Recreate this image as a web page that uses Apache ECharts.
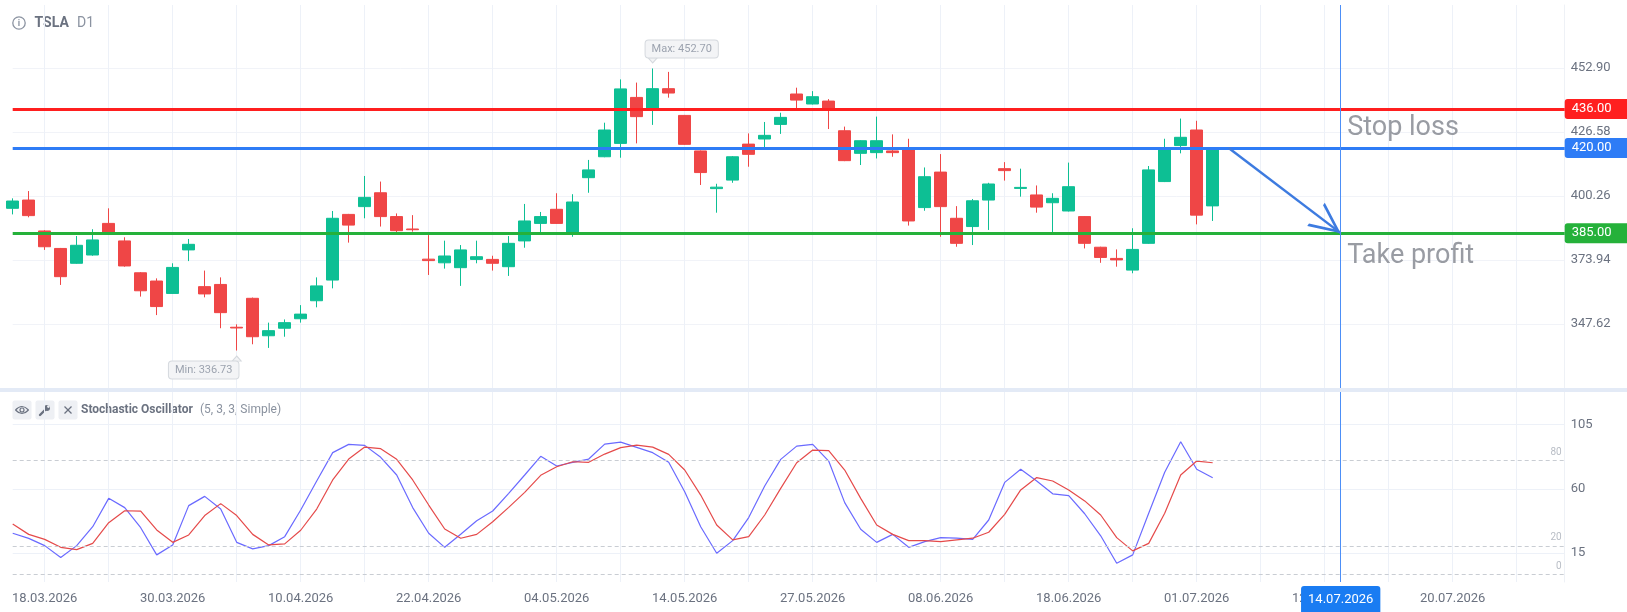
<!DOCTYPE html>
<html>
<head>
<meta charset="utf-8">
<title>TSLA D1</title>
<script src="https://cdn.jsdelivr.net/npm/echarts@6/dist/echarts.min.js"></script>
<style>
  html, body { margin: 0; padding: 0; background: #fff; overflow: hidden; }
  #chart { width: 1627px; height: 612px; }
</style>
</head>
<body>
<div id="chart"></div>
<script>
// trading days shown on the chart, then the empty future slots on the right
var dates = [
  '16.03.2026', '17.03.2026', '18.03.2026', '19.03.2026', '20.03.2026', '23.03.2026', '24.03.2026', '25.03.2026',
  '26.03.2026', '27.03.2026', '30.03.2026', '31.03.2026', '01.04.2026', '02.04.2026', '06.04.2026', '07.04.2026',
  '08.04.2026', '09.04.2026', '10.04.2026', '13.04.2026', '14.04.2026', '15.04.2026', '16.04.2026', '17.04.2026',
  '20.04.2026', '21.04.2026', '22.04.2026', '23.04.2026', '24.04.2026', '27.04.2026', '28.04.2026', '29.04.2026',
  '30.04.2026', '01.05.2026', '04.05.2026', '05.05.2026', '06.05.2026', '07.05.2026', '08.05.2026', '11.05.2026',
  '12.05.2026', '13.05.2026', '14.05.2026', '15.05.2026', '18.05.2026', '19.05.2026', '20.05.2026', '21.05.2026',
  '22.05.2026', '26.05.2026', '27.05.2026', '28.05.2026', '29.05.2026', '01.06.2026', '02.06.2026', '03.06.2026',
  '04.06.2026', '05.06.2026', '08.06.2026', '09.06.2026', '10.06.2026', '11.06.2026', '12.06.2026', '15.06.2026',
  '16.06.2026', '17.06.2026', '18.06.2026', '22.06.2026', '23.06.2026', '24.06.2026', '25.06.2026', '26.06.2026',
  '29.06.2026', '30.06.2026', '01.07.2026', '02.07.2026'
];
var futureDates = [
  '', '', '', '', '', '', '12.07.2026', '14.07.2026', '', '', '', '', '', '', '20.07.2026',
  '', '', '', '', '', '', ''
];

// OHLC
var opens = [
  395.2, 398.6, 385.9, 378.7, 372.6, 376.0, 389.0, 381.8, 368.7, 365.3, 360.2, 378.1, 363.0, 363.9, 346.3, 358.2,
  342.8, 345.9, 349.8, 357.2, 365.7, 392.7, 395.9, 401.6, 391.8, 386.7, 374.3, 372.8, 370.8, 374.2, 374.2, 371.2,
  381.8, 389.0, 394.8, 384.6, 407.8, 416.4, 421.9, 440.8, 436.0, 444.4, 433.4, 418.8, 403.3, 406.8, 421.6, 423.7,
  429.7, 442.2, 438.1, 439.3, 427.1, 417.8, 418.1, 418.8, 419.2, 395.5, 410.1, 391.1, 387.7, 398.6, 411.5, 403.4,
  400.7, 397.5, 394.1, 391.8, 379.2, 374.6, 369.8, 380.8, 406.2, 421.0, 427.4, 396.2
];
var closes = [
  398.2, 392.2, 379.4, 367.1, 380.0, 382.2, 384.9, 371.5, 361.3, 354.8, 370.9, 380.4, 360.0, 352.3, 346.0, 342.4,
  344.9, 348.2, 351.7, 363.3, 391.1, 388.3, 399.7, 391.8, 386.0, 386.4, 373.7, 375.6, 378.1, 375.3, 372.6, 380.8,
  390.0, 391.8, 389.0, 397.8, 411.0, 427.4, 444.3, 432.9, 444.4, 442.6, 421.5, 409.9, 403.9, 416.4, 417.4, 425.2,
  432.6, 439.7, 441.1, 436.0, 414.8, 423.0, 423.0, 418.1, 390.0, 408.2, 395.9, 380.8, 398.3, 405.2, 410.7, 403.8,
  395.7, 399.3, 404.1, 380.8, 375.0, 374.0, 378.3, 411.0, 419.2, 424.4, 392.4, 419.5
];
var lows = [
  392.7, 391.5, 378.1, 363.7, 372.4, 375.7, 384.7, 371.2, 358.9, 351.3, 360.0, 373.5, 358.6, 345.9, 336.73, 339.3,
  337.8, 342.4, 348.2, 354.5, 362.3, 381.1, 391.1, 387.7, 385.3, 385.6, 367.8, 370.4, 363.3, 372.6, 369.6, 367.4,
  379.0, 385.3, 388.8, 383.5, 401.6, 416.2, 416.0, 421.9, 429.5, 440.7, 421.3, 404.8, 393.4, 405.7, 412.3, 420.3,
  425.8, 435.9, 437.9, 427.8, 414.6, 413.0, 415.7, 416.4, 388.1, 394.2, 383.5, 379.4, 380.1, 386.3, 406.6, 400.0,
  393.4, 384.9, 393.9, 378.7, 372.8, 371.2, 368.5, 380.6, 406.0, 417.8, 388.6, 390.0
];
var highs = [
  399.3, 402.3, 386.2, 378.9, 383.8, 386.6, 395.2, 383.3, 369.0, 366.4, 372.6, 382.6, 369.6, 366.8, 347.5, 358.5,
  348.2, 349.5, 355.4, 366.8, 394.1, 392.9, 408.5, 406.2, 393.1, 392.4, 384.2, 381.9, 380.1, 381.9, 375.7, 383.8,
  397.0, 393.7, 401.4, 401.0, 415.1, 430.4, 448.2, 446.9, 452.70, 451.3, 433.6, 419.0, 405.3, 416.7, 426.0, 430.7,
  434.5, 444.8, 443.4, 440.1, 428.8, 423.2, 432.9, 425.6, 423.8, 412.0, 417.5, 396.1, 399.0, 405.7, 414.2, 411.5,
  404.6, 401.4, 414.0, 392.0, 379.4, 378.3, 387.0, 412.6, 423.8, 432.1, 431.2, 420.0
];

// Stochastic Oscillator (5, 3, 3): %K blue, %D red
var stochK = [
  28.8, 25.2, 20.1, 11.7, 20.1, 33.4, 53.3, 46.8, 32.7, 13.6, 20.6, 48.2, 54.7, 45.8, 22.4, 17.8,
  20.1, 26.4, 45.1, 65.5, 85.4, 91.2, 90.5, 82.1, 69.7, 46.8, 28.8, 18.9, 28.1, 37.6, 44.4, 56.8,
  69.7, 82.8, 76.0, 78.6, 80.9, 91.4, 92.8, 89.1, 85.4, 78.6, 58.0, 33.4, 14.7, 23.6, 39.8, 62.0,
  80.7, 90.0, 91.2, 79.5, 50.3, 31.6, 22.4, 28.0, 18.9, 22.9, 25.7, 25.3, 24.5, 38.1, 64.5, 73.7,
  65.5, 56.5, 55.2, 42.5, 27.0, 7.7, 13.6, 42.8, 71.6, 93.1, 73.7, 67.8
];
var stochD = [
  35.3, 28.0, 24.5, 18.9, 17.3, 21.7, 36.2, 44.6, 44.4, 31.1, 22.4, 27.6, 41.2, 49.6, 41.2, 28.0,
  20.6, 21.3, 30.9, 45.8, 66.2, 80.9, 89.3, 88.2, 80.7, 66.2, 48.6, 31.8, 25.3, 28.0, 36.9, 47.0,
  57.5, 69.5, 75.5, 79.0, 78.6, 84.4, 88.9, 90.7, 89.3, 84.2, 73.2, 55.6, 34.6, 24.1, 26.4, 41.6,
  60.3, 78.3, 87.2, 86.8, 73.2, 53.3, 34.6, 28.0, 23.6, 23.6, 22.9, 24.1, 25.3, 29.5, 42.1, 59.2,
  67.9, 65.5, 59.2, 51.5, 41.6, 25.7, 16.4, 21.7, 42.8, 69.7, 79.5, 78.3
];

var priceTicks = [347.62, 373.94, 400.26, 426.58, 452.90];
var stochTicks = [15, 60, 105];
var stochLevels = [80, 20, 0];

var stopLoss = 436, entry = 420, takeProfit = 385;
var levelValues = [stopLoss, entry, takeProfit];
var levelColors = ['#ff1f1f', '#2e7cf6', '#25b13a'];
var cursorDate = '14.07.2026';
var arrowFrom = 76; // first empty slot after the last candle

var FONT = 'Roboto, sans-serif';
var TXT = '#6b7280';
var GRID = '#edf1f8';

var allDates = dates.concat(futureDates);
var cursorIndex = allDates.indexOf(cursorDate);
var candles = opens.map(function (o, i) {
  return [o, closes[i], lows[i], highs[i]];
});

function levelLine (value, i) {
  return {
    yAxis: value,
    lineStyle: { color: levelColors[i], width: 3, type: 'solid' },
    label: { show: false }
  };
}

// one extra right axis per level, each drawing a coloured price tag
function levelAxis (value, i) {
  return {
    type: 'value', gridIndex: 0, position: 'right', min: 321.32, max: 478.80,
    axisLine: { show: false }, axisTick: { show: false, customValues: [value] },
    splitLine: { show: false },
    axisLabel: {
      customValues: [value], margin: 0, formatter: value.toFixed(2),
      color: '#fff', backgroundColor: levelColors[i], fontFamily: FONT, fontSize: 13,
      width: 57, height: 20, lineHeight: 20, align: 'left', padding: [0, 0, 0, 7],
      borderRadius: [3, 0, 0, 3]
    }
  };
}

function dashLevel (value) {
  return {
    yAxis: value,
    lineStyle: { color: '#c9cdd3', width: 1, type: [4, 3] },
    label: {
      show: true, position: 'insideEndTop', distance: 3,
      formatter: String(value), color: '#b8bdc5', fontFamily: FONT, fontSize: 10
    }
  };
}

var markBox = {
  color: '#9ca3af', fontFamily: FONT, fontSize: 11, lineHeight: 11,
  backgroundColor: '#f3f4f6', borderColor: '#d5d9de', borderWidth: 1,
  borderRadius: 3, padding: [3, 6]
};

function xAxisFor (grid, showLabels) {
  return {
    type: 'category', gridIndex: grid, data: allDates, boundaryGap: false,
    axisLine: { show: false }, axisTick: { show: false },
    axisLabel: {
      show: showLabels, color: TXT, fontFamily: FONT, fontSize: 13, margin: 10,
      interval: function (idx) { return idx % 8 === 2; }
    },
    splitLine: {
      show: true, lineStyle: { color: GRID, width: 1 },
      interval: function (idx) { return idx % 4 === 2; }
    },
    axisPointer: {
      show: true, type: 'line', value: cursorIndex, status: 'show', snap: true,
      triggerTooltip: false,
      lineStyle: { color: '#4c8ff7', width: 1, type: 'solid' },
      label: {
        show: showLabels, color: '#fff', backgroundColor: '#1a7cf2',
        fontFamily: FONT, fontSize: 13, lineHeight: 13, padding: [7, 7, 6, 7],
        margin: 4, borderRadius: [3, 3, 0, 0]
      }
    }
  };
}

var chart = echarts.init(document.getElementById('chart'));

var option = {
  animation: false,
  backgroundColor: '#fff',
  axisPointer: { triggerOn: 'none' },
  grid: [
    { left: 12.7, right: 62.3, top: 5, height: 383, outerBoundsMode: 'none' },
    { left: 12.7, right: 62.3, top: 392, height: 190, outerBoundsMode: 'none' }
  ],
  xAxis: [xAxisFor(0, false), xAxisFor(1, true)],
  yAxis: [
    {
      type: 'value', gridIndex: 0, position: 'right', min: 321.32, max: 478.80,
      axisLine: { show: true, lineStyle: { color: '#eef1f6' } },
      axisTick: { show: false, customValues: priceTicks },
      axisLabel: {
        customValues: priceTicks, color: TXT, fontFamily: FONT, fontSize: 13, margin: 6,
        formatter: function (v) { return v.toFixed(2); }
      },
      splitLine: { show: true, lineStyle: { color: '#f1f3f8' } }
    },
    {
      type: 'value', gridIndex: 1, position: 'right', min: -5.45, max: 128,
      axisLine: { show: true, lineStyle: { color: '#eef1f6' } },
      axisTick: { show: false, customValues: stochTicks },
      axisLabel: { customValues: stochTicks, color: TXT, fontFamily: FONT, fontSize: 13, margin: 6 },
      splitLine: { show: true, lineStyle: { color: GRID } }
    }
  ].concat(levelValues.map(levelAxis)),
  series: [
    {
      name: 'TSLA', type: 'candlestick', xAxisIndex: 0, yAxisIndex: 0,
      data: candles, barWidth: 12, clip: false,
      itemStyle: {
        color: '#0dbf94', color0: '#ef4646',
        borderColor: '#0dbf94', borderColor0: '#ef4646', borderWidth: 1
      },
      markLine: {
        silent: true, symbol: ['none', 'none'], animation: false,
        data: levelValues.map(levelLine).concat([
          [
            { coord: [arrowFrom, entry], symbol: 'none', label: { show: false } },
            {
              coord: [cursorDate, takeProfit],
              symbol: 'path://M10,0 L20,20 L18,20 L10,4 L2,20 L0,20 Z',
              symbolSize: [29, 31], symbolOffset: [0, 15.5], label: { show: false }
            }
          ]
        ]),
        lineStyle: { color: '#3d7be0', width: 2.5, type: 'solid' }
      },
      markPoint: {
        silent: true, animation: false,
        data: [
          {
            type: 'max', valueDim: 'highest',
            symbol: 'path://M0,0 L10,0 L5,6 Z', symbolSize: [9, 5], symbolOffset: [0, -8],
            itemStyle: { color: '#f3f4f6', borderColor: '#d5d9de', borderWidth: 1 },
            label: Object.assign({
              show: true, position: 'top', distance: 0, offset: [29, 0],
              formatter: function (p) { return 'Max: ' + p.value.toFixed(2); }
            }, markBox)
          },
          {
            type: 'min', valueDim: 'lowest',
            symbol: 'path://M5,0 L10,6 L0,6 Z', symbolSize: [9, 5], symbolOffset: [0, 8],
            itemStyle: { color: '#f3f4f6', borderColor: '#d5d9de', borderWidth: 1 },
            label: Object.assign({
              show: true, position: 'bottom', distance: 0, offset: [-33, 0],
              formatter: function (p) { return 'Min: ' + p.value.toFixed(2); }
            }, markBox)
          },
          {
            coord: [cursorDate, stopLoss], symbol: 'circle', symbolSize: 1,
            itemStyle: { color: 'rgba(0,0,0,0)' },
            label: {
              show: true, position: 'right', distance: 6, offset: [0, 19],
              formatter: 'Stop loss', color: '#999ca3', fontFamily: FONT, fontSize: 27
            }
          },
          {
            coord: [cursorDate, takeProfit], symbol: 'circle', symbolSize: 1,
            itemStyle: { color: 'rgba(0,0,0,0)' },
            label: {
              show: true, position: 'right', distance: 6, offset: [0, 23],
              formatter: 'Take profit', color: '#999ca3', fontFamily: FONT, fontSize: 27
            }
          }
        ]
      }
    },
    {
      name: '%K', type: 'line', xAxisIndex: 1, yAxisIndex: 1,
      data: stochK, symbol: 'none', lineStyle: { color: '#6a6aff', width: 1.2 },
      markLine: {
        silent: true, symbol: ['none', 'none'], animation: false,
        data: stochLevels.map(dashLevel)
      }
    },
    {
      name: '%D', type: 'line', xAxisIndex: 1, yAxisIndex: 1,
      data: stochD, symbol: 'none', lineStyle: { color: '#e54a4a', width: 1.2 }
    }
  ],
  graphic: [
    { type: 'rect', shape: { x: 0, y: 388, width: 1627, height: 4 }, style: { fill: '#e3eaf6' }, z: 10 },
    // title
    { type: 'circle', shape: { cx: 19, cy: 23, r: 6.2 }, style: { fill: 'none', stroke: '#8b93a1', lineWidth: 1.3 } },
    { type: 'text', x: 19, y: 23.5, style: { text: 'i', fill: '#8b93a1', font: 'bold 9px Roboto', align: 'center', textAlign: 'center', verticalAlign: 'middle', textVerticalAlign: 'middle' } },
    { type: 'text', x: 34.5, y: 23, style: { text: 'TSLA', fill: '#6b7280', font: 'bold 14px Roboto', verticalAlign: 'middle', textVerticalAlign: 'middle' } },
    { type: 'text', x: 77, y: 23, style: { text: 'D1', fill: '#8b93a1', font: '14px Roboto', verticalAlign: 'middle', textVerticalAlign: 'middle' } },
    // indicator header: eye, wrench, close buttons
    { type: 'rect', shape: { x: 12.5, y: 400.5, width: 19, height: 19, r: 2 }, style: { fill: '#eef0f4' } },
    { type: 'rect', shape: { x: 35.5, y: 400.5, width: 19, height: 19, r: 2 }, style: { fill: '#eef0f4' } },
    { type: 'rect', shape: { x: 58.5, y: 400.5, width: 19, height: 19, r: 2 }, style: { fill: '#eef0f4' } },
    { type: 'bezierCurve', shape: { x1: 15.5, y1: 410, x2: 28.5, y2: 410, cpx1: 22, cpy1: 403 }, style: { fill: 'none', stroke: '#6b7280', lineWidth: 1.2 } },
    { type: 'bezierCurve', shape: { x1: 15.5, y1: 410, x2: 28.5, y2: 410, cpx1: 22, cpy1: 417 }, style: { fill: 'none', stroke: '#6b7280', lineWidth: 1.2 } },
    { type: 'circle', shape: { cx: 22, cy: 410, r: 2 }, style: { fill: 'none', stroke: '#6b7280', lineWidth: 1.2 } },
    { type: 'line', shape: { x1: 40, y1: 415, x2: 45, y2: 410 }, style: { stroke: '#6b7280', lineWidth: 2.4, lineCap: 'round' } },
    { type: 'circle', shape: { cx: 47, cy: 408, r: 3 }, style: { fill: '#6b7280' } },
    { type: 'circle', shape: { cx: 48.4, cy: 406.6, r: 1.3 }, style: { fill: '#eef0f4' } },
    { type: 'line', shape: { x1: 64.5, y1: 406.5, x2: 71.5, y2: 413.5 }, style: { stroke: '#6b7280', lineWidth: 1.3 } },
    { type: 'line', shape: { x1: 71.5, y1: 406.5, x2: 64.5, y2: 413.5 }, style: { stroke: '#6b7280', lineWidth: 1.3 } },
    { type: 'text', x: 81, y: 410, style: { text: 'Stochastic Oscillator', fill: '#6b7280', font: 'bold 12px Roboto', verticalAlign: 'middle', textVerticalAlign: 'middle' } },
    { type: 'text', x: 200, y: 410, style: { text: '(5, 3, 3, Simple)', fill: '#8a929f', font: '12px Roboto', verticalAlign: 'middle', textVerticalAlign: 'middle' } }
  ]
};

chart.setOption(option);
</script>
</body>
</html>
